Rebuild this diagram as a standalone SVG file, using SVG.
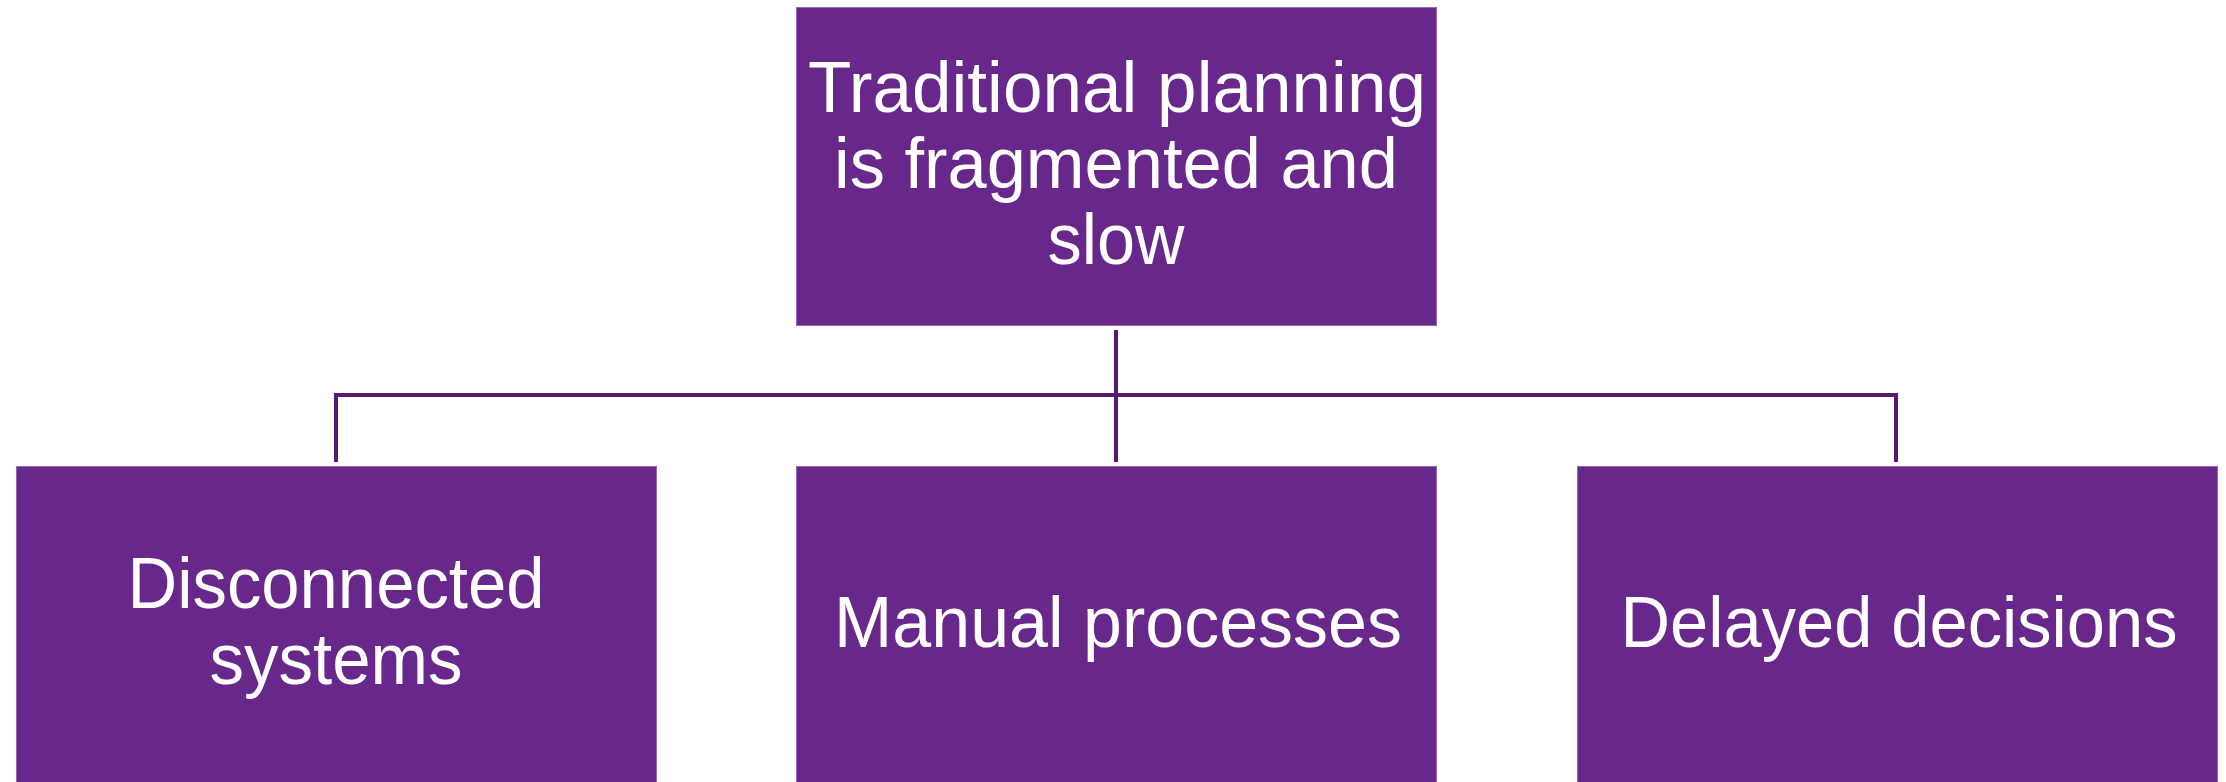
<svg xmlns="http://www.w3.org/2000/svg" width="2226" height="782" viewBox="0 0 2226 782">
<style>
.box{fill:#68278A;stroke:#9468AE;stroke-width:1}
.lbl{fill:#FFFFFF;font-family:"Liberation Sans",Arial,sans-serif;font-size:72px;text-anchor:middle}
.conn{fill:none;stroke:#561A70;stroke-width:4;stroke-linejoin:miter;stroke-linecap:butt}
</style>
<rect width="2226" height="782" fill="#FFFFFF"/>
<g id="connectors">
<path class="conn" d="M1116 330 V462"/>
<path class="conn" d="M336 462 V395 H1896 V462"/>
</g>
<g id="node-top">
<rect class="box" x="796.5" y="7.5" width="640" height="318"/>
<text class="lbl" x="1117" y="112" textLength="618" lengthAdjust="spacingAndGlyphs">Traditional planning</text>
<text class="lbl" x="1116" y="188" textLength="564" lengthAdjust="spacingAndGlyphs">is fragmented and</text>
<text class="lbl" x="1116" y="264" textLength="137" lengthAdjust="spacingAndGlyphs">slow</text>
</g>
<g id="node-disconnected">
<rect class="box" x="16.5" y="466.5" width="640" height="320"/>
<text class="lbl" x="336" y="608" textLength="417" lengthAdjust="spacingAndGlyphs">Disconnected</text>
<text class="lbl" x="336" y="684" textLength="253" lengthAdjust="spacingAndGlyphs">systems</text>
</g>
<g id="node-manual">
<rect class="box" x="796.5" y="466.5" width="640" height="320"/>
<text class="lbl" x="1118" y="647" textLength="568" lengthAdjust="spacingAndGlyphs">Manual processes</text>
</g>
<g id="node-delayed">
<rect class="box" x="1577.5" y="466.5" width="640" height="320"/>
<text class="lbl" x="1899" y="647" textLength="557" lengthAdjust="spacingAndGlyphs">Delayed decisions</text>
</g>
</svg>
